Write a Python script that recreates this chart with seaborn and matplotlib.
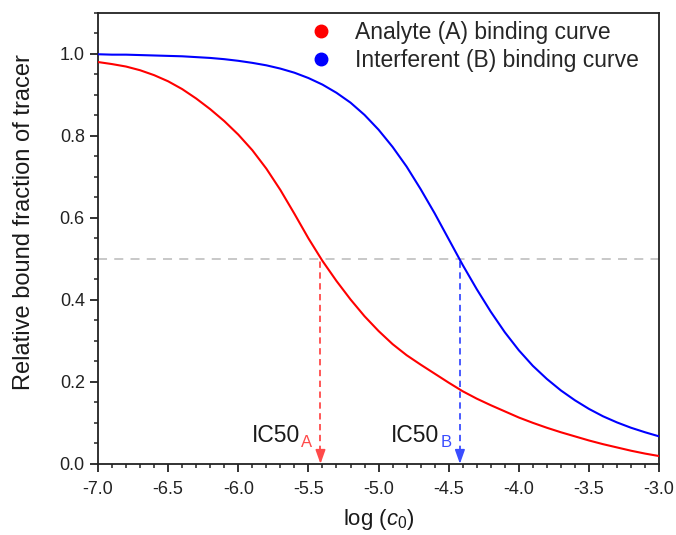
import matplotlib
matplotlib.use("Agg")
import matplotlib.pyplot as plt
import seaborn as sns
import pandas as pd
from matplotlib.lines import Line2D
from matplotlib.ticker import MultipleLocator

# log(c0) grid and bound fractions
log_c0 = [-7.0, -6.9, -6.8, -6.7, -6.6, -6.5, -6.4, -6.3, -6.2, -6.1,
          -6.0, -5.9, -5.8, -5.7, -5.6, -5.5, -5.4, -5.3, -5.2, -5.1,
          -5.0, -4.9, -4.8, -4.7, -4.6, -4.5, -4.4, -4.3, -4.2, -4.1,
          -4.0, -3.9, -3.8, -3.7, -3.6, -3.5, -3.4, -3.3, -3.2, -3.1, -3.0]
analyte_a = [0.980, 0.975, 0.969, 0.960, 0.948, 0.933, 0.914, 0.891, 0.865, 0.836,
             0.803, 0.765, 0.720, 0.668, 0.610, 0.550, 0.495, 0.446, 0.401, 0.360,
             0.324, 0.292, 0.265, 0.242, 0.220, 0.198, 0.177, 0.159, 0.143, 0.128,
             0.113, 0.100, 0.088, 0.077, 0.067, 0.057, 0.048, 0.040, 0.032, 0.025, 0.019]
interferent_b = [0.999, 0.998, 0.998, 0.997, 0.996, 0.995, 0.994, 0.992, 0.990, 0.987,
                 0.983, 0.978, 0.972, 0.964, 0.954, 0.941, 0.925, 0.905, 0.881, 0.851,
                 0.815, 0.773, 0.725, 0.670, 0.611, 0.548, 0.485, 0.426, 0.371, 0.321,
                 0.277, 0.239, 0.207, 0.179, 0.155, 0.134, 0.116, 0.101, 0.088, 0.077, 0.067]
ic50_a = -5.414
ic50_b = -4.42
half = 0.5

df = pd.DataFrame({"x": log_c0, "A": analyte_a, "B": interferent_b})

sns.set_theme(style="ticks")
plt.rcParams["font.family"] = ["Liberation Sans", "DejaVu Sans"]
plt.rcParams["mathtext.fontset"] = "custom"
plt.rcParams["mathtext.rm"] = "Liberation Sans"
plt.rcParams["mathtext.it"] = "Liberation Sans:italic"

fig = plt.figure(figsize=(6.76, 5.35), dpi=100)
ax = fig.add_axes([0.145, 0.133, 0.83, 0.843])

ax.axhline(half, color="#c4c4c4", lw=1.3, ls=(0, (5, 4)), zorder=1)

sns.lineplot(data=df, x="x", y="A", color="#ff0000", lw=1.5, ax=ax, zorder=3)
sns.lineplot(data=df, x="x", y="B", color="#0000ff", lw=1.5, ax=ax, zorder=3)

for x50, col, sub in [(ic50_a, "#ff4a4a", "A"), (ic50_b, "#3a4dff", "B")]:
    ax.vlines(x50, 0.03, half, colors=col, lw=1.3, ls=(0, (3.5, 2.5)), zorder=2)
    ax.annotate("", xy=(x50, 0), xytext=(x50, 0.035),
                arrowprops=dict(arrowstyle="-|>,head_length=0.7,head_width=0.25",
                                color=col, lw=1.2, shrinkA=0, shrinkB=0))
    ax.annotate("IC50", xy=(x50, 0.054), xytext=(-15, 0), textcoords="offset points",
                ha="right", va="baseline", fontsize=16.5, color="#1a1a1a")
    ax.annotate(sub, xy=(x50, 0.04), xytext=(-14, 0), textcoords="offset points",
                ha="left", va="baseline", fontsize=12, color=col)

ax.set_xlim(-7, -3)
ax.set_ylim(0, 1.1)
ax.xaxis.set_major_locator(MultipleLocator(0.5))
ax.xaxis.set_minor_locator(MultipleLocator(0.1))
ax.yaxis.set_major_locator(MultipleLocator(0.2))
ax.yaxis.set_minor_locator(MultipleLocator(0.05))
ax.xaxis.set_major_formatter(lambda v, p: f"{v:.1f}")
ax.yaxis.set_major_formatter(lambda v, p: f"{v:.1f}")
ax.tick_params(which="major", direction="out", length=6, width=1.3, labelsize=13,
               color="#222222", labelcolor="#222222")
ax.tick_params(axis="x", which="major", pad=6)
ax.tick_params(which="minor", direction="out", length=3, width=1.1, color="#222222")
for s in ax.spines.values():
    s.set_linewidth(1.3)
    s.set_color("#222222")

ax.set_xlabel(r"log ($c_0$)", fontsize=16, color="#1a1a1a", labelpad=7)
ax.set_ylabel("Relative bound fraction of tracer", fontsize=17, color="#1a1a1a")
ax.yaxis.set_label_coords(-0.113, 0.537)

handles = [
    Line2D([], [], ls="none", marker="o", ms=9, color="#ff0000"),
    Line2D([], [], ls="none", marker="o", ms=9, color="#0000ff"),
]
ax.legend(handles, ["Analyte (A) binding curve", "Interferent (B) binding curve"],
          loc="upper right", bbox_to_anchor=(0.985, 1.008), frameon=False,
          fontsize=16.5, handlelength=1.0, handletextpad=1.0, labelspacing=0.25,
          borderaxespad=0.1)

fig.savefig("out.png", dpi=100)
